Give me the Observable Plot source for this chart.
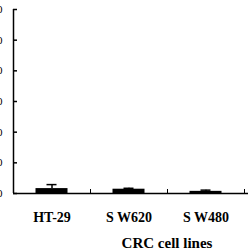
<!DOCTYPE html>
<html><head><meta charset="utf-8">
<script src="https://cdn.jsdelivr.net/npm/d3@7"></script>
<script src="https://cdn.jsdelivr.net/npm/@observablehq/plot@0.6"></script>
<style>body{margin:0;background:#fff} svg{display:block}</style>
</head><body><div id="chart"></div>
<script>
const cellLines = ["HT-29", "S W620", "S W480"];
const means = [0.16, 0.14, 0.07];
const errors = [0.13, 0.03, 0.04];
const yTicks = [0, 1, 2, 3, 4, 5, 6];
const xTitle = "CRC cell lines";

const data = cellLines.map((c, i) => ({line: c, mean: means[i], err: errors[i]}));

const plot = Plot.plot({
  width: 250, height: 250,
  marginLeft: 13, marginRight: 2, marginTop: 9, marginBottom: 57,
  style: {fontFamily: "Liberation Serif", background: "white", overflow: "hidden", color: "black"},
  x: {domain: cellLines, range: [13, 244], padding: 0, axis: null},
  y: {domain: [0, 6], axis: null},
  marks: [
    Plot.ruleX(data, {x: "line", y1: "mean", y2: d => d.mean + d.err, stroke: "black", strokeWidth: 1.5}),
    Plot.tickY(data, {x: "line", y: d => d.mean + d.err, insetLeft: 33.5, insetRight: 33.5, stroke: "black", strokeWidth: 1.5}),
    Plot.barY(data, {x: "line", y: "mean", fill: "black", insetLeft: 22.5, insetRight: 22.5}),
    Plot.ruleY(yTicks, {y: d => d, insetRight: 231, stroke: "black", strokeWidth: 1.5}),
    Plot.ruleY([0], {stroke: "black", strokeWidth: 1.5}),
    Plot.ruleX([cellLines[0]], {x: d => d, dx: -38.5, stroke: "black", strokeWidth: 1.5}),
    Plot.ruleX(cellLines, {x: d => d, dx: 38.5, insetTop: 180, stroke: "black", strokeWidth: 1}),
    Plot.axisY({ticks: yTicks, tickSize: 0, tickPadding: 11, fontSize: 11, label: null}),
    Plot.axisX({tickSize: 0, tickPadding: 19, fontSize: 14, fontWeight: "bold", label: null}),
    Plot.text([xTitle], {frameAnchor: "bottom", dx: 36, dy: 50, fontSize: 15, fontWeight: "bold", lineAnchor: "middle"})
  ]
});
document.getElementById("chart").appendChild(plot);
</script>
</body></html>
